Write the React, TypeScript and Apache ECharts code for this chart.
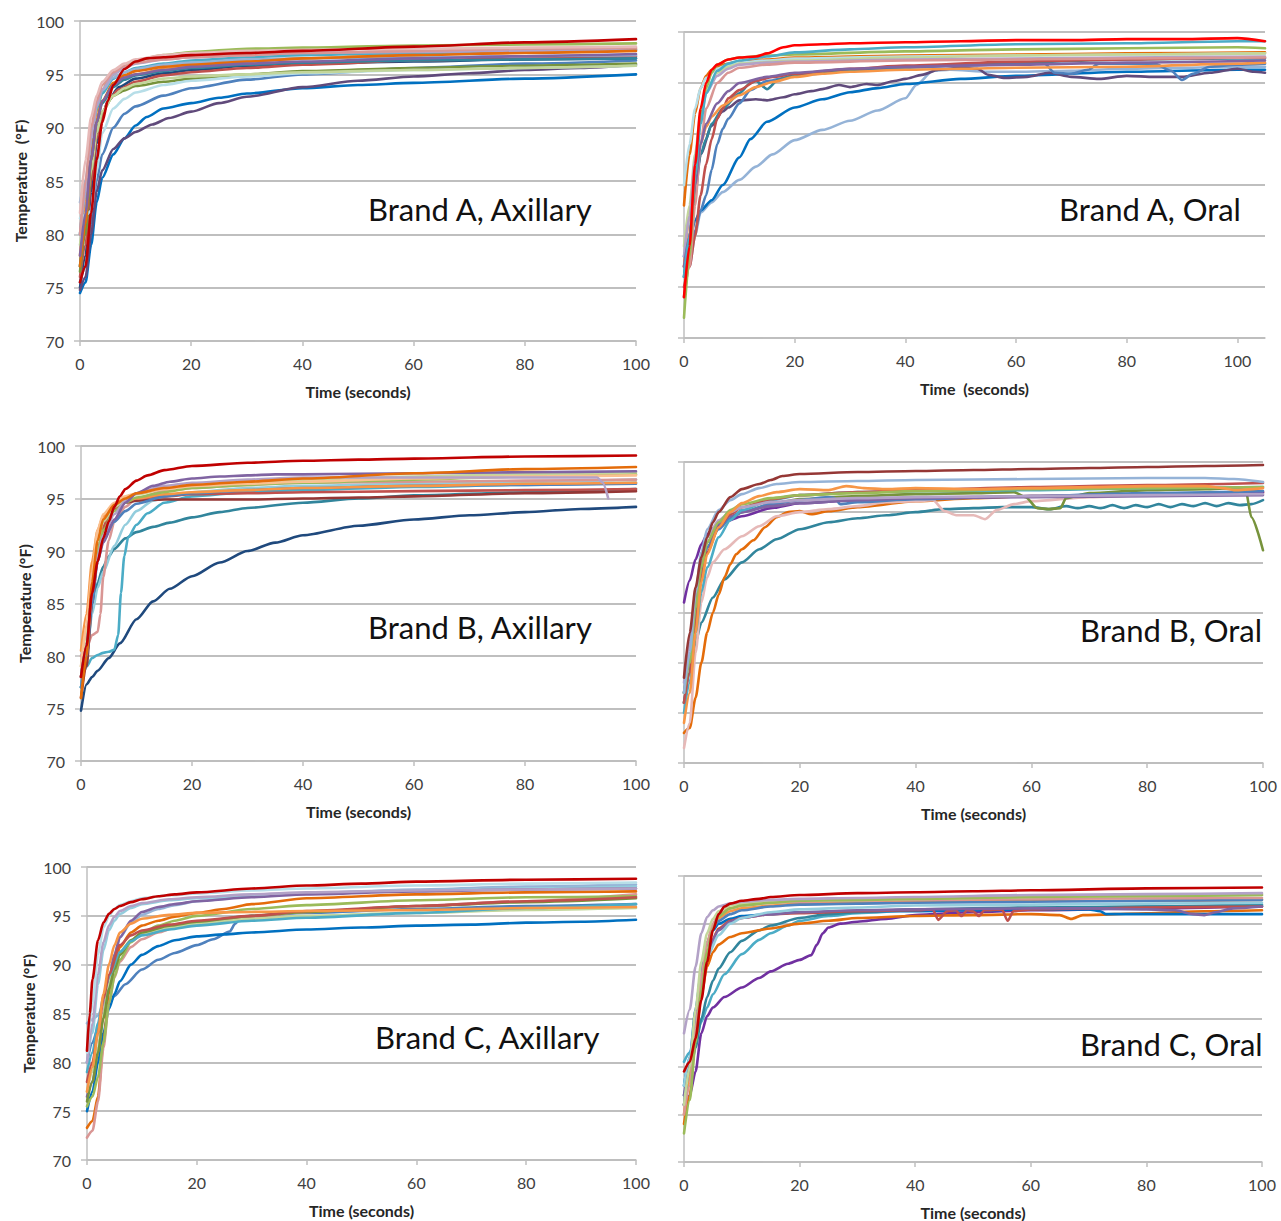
import React, { useEffect, useRef } from "react";
import * as echarts from "echarts";

type Pt = [number, number];

// Shared axis ranges
const yMin = 70;
const yMax = 100;
const yStep = 5;
const xStep = 20;
const xMaxByPanel = [100, 105, 100, 100, 100, 100];

const panelLabels = [
  "Brand A, Axillary",
  "Brand A, Oral",
  "Brand B, Axillary",
  "Brand B, Oral",
  "Brand C, Axillary",
  "Brand C, Oral",
];
const xTitles = [
  "Time (seconds)",
  "Time  (seconds)",
  "Time (seconds)",
  "Time (seconds)",
  "Time (seconds)",
  "Time (seconds)",
];
const yTitles = ["Temperature  (°F)", "", "Temperature (°F)", "", "Temperature (°F)", ""];

// ---- Brand A, axillary readings (time s, temperature °F) ----
const brandAAxillaryCurves: Pt[][] = [
  [[0,75],[1,78],[2,84],[3,88.5],[4,91],[5,92.5],[7,93.8],[10,94.6],[15,95.1],[20,95.4],[30,95.8],[40,96],[60,96.2],[80,96.4],[100,96.5]],
  [[0,75.5],[1,77],[2,81],[3,85],[4,87.5],[6,90],[8,91.3],[10,92],[15,93],[20,93.7],[30,94.5],[40,95],[60,95.6],[80,96],[100,96.3]],
  [[0,74.5],[1,75.5],[2,79],[3,83],[4,85.3],[6,87.5],[8,89],[10,90.2],[12,91],[15,91.8],[20,92.3],[25,92.8],[30,93.2],[40,93.7],[50,94],[60,94.2],[80,94.6],[100,95]],
  [[0,74.8],[1,76],[2,80],[3,84],[4,86],[6,88],[8,89],[10,89.6],[13,90.3],[16,90.9],[20,91.5],[25,92.3],[30,92.9],[40,93.8],[50,94.4],[60,94.8],[70,95.1],[80,95.4],[90,95.6],[100,95.9]],
  [[0,76],[1,79],[2,85],[3,89],[4,91],[5,92.5],[7,93.6],[10,94.3],[15,94.9],[20,95.2],[30,95.6],[40,95.9],[60,96.3],[80,96.5],[100,96.7]],
  [[0,77],[1,82],[2,88],[3,91.5],[4,93.3],[5,94.5],[7,95.6],[10,96.3],[15,96.8],[20,97.1],[30,97.4],[40,97.5],[60,97.7],[80,97.8],[100,97.9]],
  [[0,76.5],[1,80],[2,86],[3,89.5],[4,91.5],[6,93],[8,93.5],[10,93.9],[15,94.3],[20,94.6],[30,95],[40,95.3],[60,95.6],[80,95.8],[100,96]],
  [[0,78],[1,83],[2,88],[3,91],[4,92.5],[6,94],[8,94.6],[10,95],[15,95.5],[20,95.8],[30,96.2],[40,96.5],[60,96.9],[80,97.2],[100,97.4]],
  [[0,80],[1,84],[2,89],[3,91.8],[4,93.2],[6,94.6],[8,95.2],[10,95.6],[15,96],[20,96.3],[30,96.6],[40,96.8],[60,97],[80,97.2],[100,97.3]],
  [[0,81.5],[1,81.8],[2,82.2],[3,86],[4,89.5],[6,91.8],[8,92.7],[10,93.3],[15,94],[20,94.4],[30,94.8],[40,95.1],[60,95.4],[80,95.6],[100,95.8]],
  [[0,83],[1,85],[2,89],[3,92],[4,93.5],[6,94.7],[8,95.2],[10,95.5],[15,95.9],[20,96.1],[30,96.4],[40,96.5],[60,96.6],[80,96.7],[100,96.8]],
  [[0,79],[1,82],[2,86],[3,89.5],[4,91.5],[6,93],[8,93.7],[10,94.1],[15,94.6],[20,94.8],[30,95],[40,95.2],[60,95.4],[80,95.6],[100,95.8]],
  [[0,80],[1,84],[2,89],[3,92],[4,93.6],[6,95],[8,95.6],[10,96],[15,96.4],[20,96.6],[30,96.8],[40,97],[60,97.1],[80,97.2],[100,97.3]],
  [[0,80],[1,85],[2,90],[3,92.5],[4,94],[6,95.2],[8,95.8],[10,96.1],[15,96.4],[20,96.6],[30,96.8],[40,97],[60,97.2],[80,97.4],[100,97.5]],
  [[0,82],[1,87],[2,91],[3,93],[4,94.3],[6,95.4],[8,96],[10,96.4],[15,96.8],[20,97],[30,97.2],[40,97.3],[60,97.4],[80,97.5],[100,97.6]],
  [[0,77],[1,81],[2,87],[3,90.5],[4,92.3],[6,93.8],[8,94.5],[10,94.9],[15,95.3],[20,95.6],[30,95.9],[40,96.1],[60,96.3],[80,96.4],[100,96.5]],
  [[0,77],[1,81],[2,87],[3,90.5],[4,92.5],[6,94.2],[8,94.9],[10,95.3],[15,95.7],[20,95.9],[30,96.2],[40,96.5],[60,96.8],[80,97],[100,97.2]],
  [[0,78],[1,82],[2,87],[3,90.5],[4,92.5],[6,94],[8,94.7],[10,95],[15,95.4],[20,95.7],[30,96],[40,96.2],[60,96.5],[80,96.7],[100,96.9]],
  [[0,75.5],[1,77],[2,82],[3,87],[4,90.5],[5,92.5],[6,94],[8,95.5],[10,96.2],[12,96.5],[15,96.6],[20,96.8],[30,97],[40,97.2],[60,97.6],[80,98],[100,98.3]],
];
const brandAAxillaryColors = [
  "#1F497D", "#4F81BD", "#0070C0", "#604A7B", "#C0504D", "#9BBB59", "#77933C", "#F79646", "#4BACC6", "#B7DEE8",
  "#95B3D7", "#C3D69B", "#B3A2C7", "#D99694", "#E6B9B8", "#31859C", "#E46C0A", "#8064A2", "#C00000",
];

// ---- Brand A, oral ----
const brandAOralCurves: Pt[][] = [
  [[0,74],[1,77],[2,80],[3,82.3],[5,83.3],[7,84.3],[10,85.5],[13,86.8],[16,88],[20,89.4],[25,90.4],[30,91.3],[35,92.3],[40,93.5],[42,94.8],[45,96.2],[48,96.3],[55,96.1],[60,96.1],[70,96.2],[80,96.4],[90,96.5],[100,96.6],[105,96.6]],
  [[0,78],[1,79.5],[2,81.5],[3,82.5],[5,83.5],[7,85],[10,87.7],[12,89.5],[15,91.2],[20,92.6],[25,93.4],[30,94.1],[35,94.5],[40,94.9],[50,95.4],[60,95.7],[80,96.1],[100,96.3],[105,96.3]],
  [[0,77],[1,80],[2,84],[3,88],[5,90.8],[7,92.2],[8,92.6],[10,93.3],[13,93.4],[15,93.3],[18,93.6],[20,93.9],[23,94.2],[25,94.4],[28,94.8],[30,94.6],[33,94.9],[35,94.8],[38,95.2],[40,95.4],[43,95.8],[46,96.3],[50,96.5],[53,96.4],[55,95.8],[58,95.5],[62,95.6],[66,96],[70,95.6],[75,95.4],[80,95.7],[85,95.6],[90,95.6],[95,96],[100,96.4],[103,96.1],[105,96]],
  [[0,76],[1,78],[2,80.5],[3,82.5],[4,84],[5,86.5],[6,89],[7,90.5],[8,91.5],[10,93],[12,94.3],[15,95.2],[20,95.7],[30,96.2],[40,96.5],[50,96.7],[60,96.9],[65,97],[67,96],[70,95.9],[73,96.3],[75,96.9],[85,96.9],[88,96.2],[90,95.3],[92,95.9],[95,96.6],[100,96.8],[105,96.9]],
  [[0,76],[1,80],[2,85],[3,88],[4,89.5],[5,91],[7,92.5],[10,94],[12,95],[13,95.2],[15,94.4],[17,95.3],[20,95.8],[25,96.1],[30,96.3],[40,96.6],[50,96.8],[60,97],[80,97.3],[100,97.4],[105,97.4]],
  [[0,75],[1,77],[2,80],[3,84],[4,87],[5,89.5],[6,91.5],[7,92.5],[8,93.5],[10,94.3],[13,95.2],[16,95.6],[20,95.9],[30,96.4],[40,96.7],[60,97.1],[80,97.3],[100,97.5],[105,97.5]],
  [[0,77],[1,82],[2,86.5],[3,89],[4,90.7],[5,91.7],[7,92.8],[10,93.8],[13,94.6],[16,95.1],[20,95.6],[25,95.9],[30,96.1],[40,96.3],[50,96.4],[60,96.5],[80,96.6],[100,96.9],[105,97]],
  [[0,83],[1,88],[2,92],[3,94.5],[4,95.7],[5,96.3],[7,96.8],[10,97.1],[15,97.3],[20,97.5],[40,97.7],[60,97.8],[80,97.9],[105,98]],
  [[0,85],[1,89],[2,92.5],[3,94.5],[4,95.5],[6,96.4],[8,96.8],[10,97],[15,97.2],[20,97.4],[40,97.6],[60,97.7],[80,97.8],[105,97.9]],
  [[0,79],[1,83],[2,88],[3,92],[4,94.2],[6,96],[8,96.6],[10,96.9],[20,97.2],[40,97.5],[60,97.7],[80,97.8],[105,97.9]],
  [[0,78],[1,82],[2,87.5],[3,91.5],[4,94],[6,95.7],[8,96.4],[10,96.8],[15,97],[20,97.1],[40,97.3],[60,97.4],[80,97.5],[105,97.6]],
  [[0,74],[1,77],[2,83],[3,89],[4,92.5],[6,95],[8,96],[10,96.5],[15,96.8],[20,97],[40,97.2],[60,97.3],[80,97.4],[105,97.5]],
  [[0,77],[1,80],[2,85],[3,89],[4,91],[6,93],[8,94.2],[10,95],[15,95.6],[20,96],[30,96.4],[40,96.6],[60,96.8],[80,97],[105,97.2]],
  [[0,72],[1,78],[2,86],[3,91.5],[4,94.5],[5,96],[6,96.8],[8,97.3],[10,97.5],[15,97.7],[20,97.8],[40,98.1],[60,98.3],[80,98.4],[100,98.5],[105,98.4]],
  [[0,76],[1,80],[2,86],[3,91],[4,94],[6,96.2],[8,96.9],[10,97.2],[15,97.6],[20,98],[30,98.3],[40,98.5],[60,98.8],[80,98.9],[100,99.1],[105,99.1]],
  [[0,74],[1,79],[2,87],[3,92.5],[4,95],[5,96.3],[6,96.8],[8,97.3],[10,97.5],[13,97.6],[15,97.9],[18,98.5],[20,98.7],[25,98.8],[30,98.9],[40,99],[50,99.1],[60,99.2],[70,99.2],[80,99.3],[90,99.3],[100,99.4],[105,99.1]],
];
const brandAOralColors = [
  "#95B3D7", "#0070C0", "#604A7B", "#4F81BD", "#31859C", "#C0504D", "#F79646", "#E46C0A",
  "#B7DEE8", "#C3D69B", "#B3A2C7", "#D99694", "#8064A2", "#9BBB59", "#4BACC6", "#FF0000",
];

// ---- Brand B, axillary ----
const brandBAxillaryCurves: Pt[][] = [
  [[0,74.8],[1,77.3],[2,78],[3,78.6],[5,79.8],[7,81.2],[10,83.5],[13,85.2],[16,86.4],[20,87.6],[25,88.9],[30,90],[35,90.8],[40,91.5],[50,92.4],[60,93],[70,93.4],[80,93.7],[90,94],[100,94.2]],
  [[0,77],[1,80],[2,84.5],[3,87],[4,88.5],[5,89.5],[6,90.2],[8,91.2],[10,91.8],[13,92.3],[16,92.7],[20,93.2],[25,93.7],[30,94.1],[40,94.6],[50,95],[60,95.3],[80,95.6],[100,95.9]],
  [[0,77],[0.5,78.5],[1,79],[2,79.8],[3,80.1],[4,80.3],[5,80.4],[6,80.6],[6.7,82],[7.2,86],[7.8,89.5],[8.5,91.3],[10,92.5],[12,93.6],[15,94.6],[20,95.2],[30,95.6],[40,95.8],[60,96.1],[80,96.3],[100,96.5]],
  [[0,77],[1,80],[2,84],[3,86.5],[4,88],[6,90.5],[8,92.5],[10,93.8],[13,94.8],[16,95.3],[20,95.6],[30,96],[40,96.2],[60,96.4],[80,96.6],[100,96.8]],
  [[0,80],[1,80.8],[2,82],[3,82.3],[3.5,84],[4,87.5],[5,91],[6,92.8],[8,94.2],[10,95],[15,95.7],[20,96],[30,96.3],[40,96.5],[60,96.6],[80,96.7],[100,96.8]],
  [[0,76],[1,79],[2,85],[3,89.5],[4,92],[5,93.3],[6,94],[8,94.6],[10,94.8],[15,94.9],[20,94.9],[30,94.9],[40,95],[50,95.1],[60,95.2],[80,95.5],[100,95.7]],
  [[0,78],[1,81],[2,86],[3,90],[4,92.3],[5,93.4],[6,94],[8,94.7],[10,95],[15,95.2],[20,95.4],[30,95.5],[40,95.6],[60,95.7],[80,95.8],[100,95.9]],
  [[0,77],[1,80],[2,85],[3,89],[4,91],[6,92.8],[8,93.8],[10,94.5],[15,95.2],[20,95.5],[30,95.8],[40,96],[60,96.2],[80,96.3],[100,96.4]],
  [[0,80.5],[1,84],[2,89],[3,92],[4,93.3],[6,94.3],[8,94.7],[10,95],[15,95.4],[20,95.6],[30,95.8],[40,96],[60,96.2],[80,96.4],[100,96.5]],
  [[0,78],[1,81],[2,86],[3,90],[4,92],[6,93.8],[8,94.6],[10,95.1],[15,95.6],[20,96],[30,96.3],[40,96.5],[60,96.8],[80,97.1],[100,97.3]],
  [[0,79],[1,82],[2,87],[3,91],[4,92.8],[6,94.2],[8,94.9],[10,95.4],[15,95.9],[20,96.2],[30,96.5],[40,96.8],[60,97.1],[80,97.3],[100,97.5]],
  [[0,79],[1,83],[2,88],[3,92],[4,93.5],[6,94.6],[8,95.2],[10,95.5],[15,95.9],[20,96.2],[30,96.4],[40,96.6],[60,96.9],[80,97.1],[100,97.2]],
  [[0,78],[1,81],[2,86],[3,89.5],[4,91.5],[6,93.5],[8,94.8],[10,95.5],[15,96.2],[20,96.5],[30,96.8],[40,97],[60,97],[80,97],[93,97],[94,96.5],[95,95]],
  [[0,78],[1,81],[2,86],[3,89],[4,90.8],[6,93],[8,94.6],[10,95.5],[13,96.2],[16,96.6],[20,96.9],[25,97.1],[30,97.2],[35,97.3],[40,97.3],[60,97.4],[80,97.5],[100,97.6]],
  [[0,76],[1,80],[2,87],[3,91],[4,93],[6,94.4],[8,95],[10,95.5],[15,96],[20,96.3],[30,96.6],[40,96.9],[60,97.4],[80,97.8],[100,98]],
  [[0,78],[1,81],[2,86],[3,89],[4,91.2],[5,92.8],[6,94.2],[7,95.2],[8,95.9],[10,96.7],[12,97.2],[15,97.7],[20,98.1],[30,98.4],[40,98.6],[50,98.7],[60,98.8],[80,99],[100,99.1]],
];
const brandBAxillaryColors = [
  "#1F497D", "#31859C", "#4BACC6", "#93CDDD", "#D99694", "#943634", "#C0504D", "#4F81BD",
  "#F79646", "#9BBB59", "#C3D69B", "#FAC090", "#B3A2C7", "#8064A2", "#E46C0A", "#C00000",
];

// ---- Brand B, oral ----
const brandBOralCurves: Pt[][] = [
  [[0,77],[1,79],[2,82],[3,84],[5,86.5],[7,88.3],[10,90],[13,91.3],[16,92.3],[20,93.3],[25,94],[30,94.4],[35,94.7],[40,95],[45,95.3],[50,95.4],[55,95.5],[60,95.5],[63,95.3],[66,95.6],[68,95.4],[70,95.6],[72,95.4],[74,95.7],[76,95.4],[78,95.7],[80,95.5],[82,95.8],[84,95.5],[86,95.8],[88,95.6],[90,95.9],[92,95.6],[94,95.9],[96,95.7],[98,95.8],[100,96.2]],
  [[0,73],[1,73.5],[2,76.5],[3,80],[4,83],[5,85],[6,86.8],[7,88.5],[8,89.8],[9,90.8],[10,91.3],[12,92.2],[14,93.5],[16,94.5],[18,95],[20,95.1],[22,94.8],[25,95.1],[30,95.5],[40,96.1],[50,96.4],[60,96.6],[80,96.8],[100,97]],
  [[0,71.5],[1,74],[2,81],[3,86],[4,88.5],[5,90],[7,91.3],[10,92.6],[13,93.6],[16,94.6],[20,95],[25,95.3],[30,95.6],[35,96],[40,96.1],[43,96.2],[45,95.1],[47,94.7],[50,94.7],[52,94.3],[54,95.2],[57,95.8],[60,96.1],[70,96.5],[80,96.7],[90,96.8],[100,96.9]],
  [[0,76],[1,79],[2,85],[3,89.5],[4,91.5],[6,93.5],[8,94.3],[10,95],[15,95.8],[20,96.3],[30,96.6],[40,96.8],[50,96.9],[57,97],[59,96.5],[61,95.4],[63,95.3],[65,95.4],[66,96.4],[70,96.9],[80,97.2],[90,97.3],[95,97.4],[97,97.2],[98,94.5],[100,91.2]],
  [[0,86],[1,88.2],[2,90.3],[3,91.8],[4,92.8],[5,93.4],[7,94],[10,94.6],[15,95.4],[20,95.9],[30,96.2],[40,96.4],[50,96.5],[60,96.6],[80,96.8],[100,97]],
  [[0,76],[1,79],[2,85],[3,89],[4,91.5],[6,93.3],[8,94.4],[10,95],[15,95.8],[20,96.2],[25,96.5],[26,96.4],[27,95.8],[30,96],[40,96.3],[60,96.6],[80,96.9],[100,97.1]],
  [[0,77],[1,80],[2,86],[3,90],[4,92],[6,93.8],[8,94.6],[10,95],[15,95.6],[20,95.9],[30,96.2],[40,96.4],[60,96.5],[80,96.6],[100,96.7]],
  [[0,75],[1,78],[2,83],[3,87],[4,89.5],[6,92.5],[8,94.2],[10,95.2],[15,96.2],[20,96.7],[30,97],[40,97.1],[60,97.2],[80,97.4],[100,97.5]],
  [[0,76],[1,79],[2,84],[3,88.5],[4,91],[6,93.5],[8,94.8],[10,95.5],[15,96.3],[20,96.7],[30,97],[40,97.2],[60,97.5],[80,97.7],[100,97.9]],
  [[0,78],[1,82],[2,87],[3,90.5],[4,92.5],[6,94.2],[8,95],[10,95.5],[15,96],[20,96.2],[30,96.4],[40,96.5],[60,96.6],[80,96.7],[100,96.8]],
  [[0,77],[1,80],[2,85.5],[3,89.5],[4,92],[6,94],[8,95.2],[10,95.8],[15,96.4],[20,96.7],[30,96.9],[40,97.1],[60,97.3],[80,97.4],[100,97.5]],
  [[0,74],[1,77],[2,83],[3,88],[4,90.8],[6,93.5],[8,95],[10,95.9],[13,96.6],[16,97],[20,97.3],[25,97.2],[28,97.6],[31,97.4],[35,97.3],[40,97.4],[50,97.3],[60,97.4],[70,97.5],[80,97.6],[90,97.6],[93,97.4],[95,97.2],[100,97.4]],
  [[0,77],[1,81],[2,87],[3,91],[4,93.3],[6,95.2],[8,96.2],[10,96.8],[13,97.4],[16,97.8],[20,98],[30,98.1],[40,98.2],[60,98.3],[80,98.4],[90,98.4],[95,98.3],[100,98]],
  [[0,78.5],[1,83],[2,87.5],[3,90.5],[4,92.5],[5,94],[6,95],[8,96.5],[10,97.3],[13,97.8],[15,98.2],[17,98.6],[20,98.8],[30,99],[40,99.1],[50,99.2],[60,99.3],[70,99.4],[80,99.5],[90,99.6],[100,99.7]],
];
const brandBOralColors = [
  "#31859C", "#E46C0A", "#E6B9B8", "#77933C", "#7030A0", "#4F81BD", "#8064A2",
  "#4BACC6", "#C0504D", "#B3A2C7", "#9BBB59", "#F79646", "#95B3D7", "#953735",
];

// ---- Brand C, axillary ----
const brandCAxillaryCurves: Pt[][] = [
  [[0,80],[1,82],[2,83.5],[3,85],[4,86],[5,86.8],[7,88],[10,89.5],[13,90.5],[16,91.2],[20,92],[23,92.6],[26,93.4],[27,94.2],[28,94.8],[30,95],[40,95.3],[60,95.7],[80,96],[100,96.2]],
  [[0,75],[1,77],[2,80],[3,83],[4,85.5],[5,87],[6,88.3],[8,90],[10,91],[13,91.9],[16,92.5],[20,92.9],[25,93.1],[30,93.3],[40,93.6],[50,93.8],[60,94],[70,94.1],[80,94.3],[90,94.4],[100,94.6]],
  [[0,84],[1,84.4],[2,84.8],[3,86],[4,88.5],[5,91],[6,92.8],[8,94.3],[10,95.1],[13,95.7],[16,96.1],[20,96.5],[30,97],[40,97.3],[60,97.7],[80,98],[100,98.2]],
  [[0,80],[1,83],[2,88],[3,91.5],[4,93.5],[5,94.5],[6,95.2],[8,95.8],[10,96.2],[15,96.6],[20,96.8],[30,97.1],[40,97.3],[60,97.6],[80,97.8],[100,98]],
  [[0,76.5],[1,78],[2,81],[3,85],[4,88.5],[5,91],[6,92.8],[8,94.5],[10,95.4],[13,95.9],[16,96.2],[20,96.5],[30,96.9],[40,97.2],[60,97.5],[80,97.7],[100,97.8]],
  [[0,73.3],[1,74],[2,76.5],[3,82],[4,87],[5,90],[6,91.8],[8,93.3],[10,94],[13,94.5],[16,94.9],[20,95.3],[25,95.7],[30,96.2],[40,96.8],[60,97.2],[80,97.4],[100,97.5]],
  [[0,72.3],[1,73],[2,76],[3,81.5],[4,86],[5,88.7],[6,90.3],[8,91.8],[10,92.6],[13,93.3],[16,93.8],[20,94.2],[30,94.9],[40,95.4],[60,96],[80,96.5],[100,97.2]],
  [[0,75.5],[1,76.5],[2,78.5],[3,82],[4,86],[5,88.8],[6,90.5],[8,92.3],[10,93.2],[13,94],[16,94.5],[20,95],[30,95.7],[40,96.1],[60,96.6],[80,96.9],[100,97]],
  [[0,77],[1,79],[2,81.5],[3,85],[4,88],[5,90],[6,91.3],[8,92.5],[10,93.1],[15,93.8],[20,94.2],[30,94.7],[40,95],[60,95.3],[80,95.6],[100,95.8]],
  [[0,76],[1,78],[2,81],[3,84.5],[4,87.5],[5,89.5],[6,91],[8,92.5],[10,93.3],[15,94],[20,94.4],[30,95],[40,95.4],[60,96],[80,96.4],[100,96.8]],
  [[0,79],[1,81],[2,84],[3,86.8],[4,88.8],[6,91.3],[8,92.4],[10,93],[15,93.6],[20,94],[30,94.5],[40,94.8],[60,95.3],[80,95.8],[100,96.2]],
  [[0,78],[1,80],[2,83],[3,86.5],[4,89],[6,92],[8,93],[10,93.5],[15,94.1],[20,94.5],[30,95],[40,95.5],[60,96],[80,96.5],[100,96.9]],
  [[0,77],[1,79.5],[2,83],[3,87],[4,90],[5,92],[6,93.3],[8,94.2],[10,94.7],[15,95.1],[20,95.3],[30,95.4],[40,95.5],[60,95.6],[80,95.8],[100,95.9]],
  [[0,80],[1,84],[2,89],[3,92.3],[4,94],[5,94.9],[6,95.5],[8,96],[10,96.3],[15,96.7],[20,96.9],[30,97.2],[40,97.4],[60,97.6],[80,97.7],[100,97.8]],
  [[0,81],[1,86],[2,91],[3,93.8],[4,95],[5,95.7],[6,96.1],[8,96.5],[10,96.8],[15,97.1],[20,97.3],[30,97.6],[40,97.8],[60,98.1],[80,98.3],[100,98.4]],
  [[0,81.2],[0.5,85],[1,88.5],[2,92.5],[3,94.3],[4,95.2],[5,95.7],[6,96],[8,96.4],[10,96.7],[13,97],[16,97.2],[20,97.4],[30,97.8],[40,98.1],[50,98.3],[60,98.5],[80,98.7],[100,98.8]],
];
const brandCAxillaryColors = [
  "#4F81BD", "#0070C0", "#95B3D7", "#93CDDD", "#8064A2", "#E46C0A", "#D99694", "#9BBB59",
  "#C3D69B", "#77933C", "#4BACC6", "#C0504D", "#F79646", "#B3A2C7", "#B7DEE8", "#C00000",
];

// ---- Brand C, oral ----
const brandCOralCurves: Pt[][] = [
  [[0,76],[1,77],[2,79.5],[3,83.5],[4,85.3],[5,86.2],[7,87.3],[10,88.3],[13,89.3],[15,90],[18,90.8],[20,91.2],[22,91.7],[23,92.8],[24,94],[25,94.6],[27,95],[30,95.2],[35,95.5],[40,95.9],[50,96.2],[60,96.4],[80,96.6],[100,96.8]],
  [[0,80.5],[1,81.5],[2,83],[3,84.7],[4,86.2],[5,87.6],[7,89.7],[10,91.8],[13,93.3],[15,94],[18,94.8],[20,95.3],[25,95.8],[30,96.1],[40,96.4],[60,96.6],[80,96.8],[100,97]],
  [[0,77],[1,79],[2,82],[3,85],[4,87.3],[5,89],[6,90.3],[8,92],[10,93.2],[13,94.3],[15,94.8],[20,95.6],[25,96],[30,96.2],[40,96.5],[60,96.7],[80,96.8],[100,96.9]],
  [[0,74],[1,77],[2,83],[3,87.5],[4,90.5],[5,92],[6,92.8],[8,93.6],[10,94],[15,94.5],[20,95],[25,95.3],[30,95.6],[40,95.8],[50,95.9],[60,96],[65,95.9],[67,95.5],[69,95.9],[80,96.1],[90,96.3],[100,96.4]],
  [[0,78],[1,81],[2,86],[3,90],[4,93],[5,94.3],[6,95],[8,95.5],[10,95.8],[15,96],[20,96.2],[30,96.3],[40,96.3],[50,96.4],[60,96.5],[70,96.5],[72,96.3],[73,96],[80,96],[90,96],[100,96]],
  [[0,76],[1,79],[2,85],[3,89],[4,92],[6,94.5],[8,95.3],[10,95.6],[15,96],[20,96.1],[30,96.3],[40,96.4],[43,96.5],[44,95.4],[45.5,96.3],[47,96.4],[48,95.8],[49,96.4],[50,96.3],[51,95.8],[52,96.4],[55,96.5],[56,95.3],[57,96.3],[60,96.5],[70,96.6],[80,96.7],[100,96.8]],
  [[0,77],[1,80],[2,85],[3,89.5],[4,92],[6,94.3],[8,95.2],[10,95.6],[15,96],[20,96.2],[30,96.4],[40,96.5],[60,96.6],[70,96.6],[80,96.5],[85,96.4],[88,96],[90,95.9],[92,96.2],[95,96.6],[100,96.8]],
  [[0,75],[1,79],[2,85],[3,90],[4,93],[5,94.8],[6,95.6],[8,96.3],[10,96.6],[15,96.9],[20,97.1],[30,97.2],[40,97.3],[60,97.4],[80,97.4],[100,97.5]],
  [[0,78],[1,81],[2,85],[3,89],[4,91.5],[6,93.8],[8,95],[10,95.6],[15,96.2],[20,96.5],[30,96.7],[40,96.9],[60,97],[80,97.1],[100,97.2]],
  [[0,76],[1,80],[2,85],[3,90],[4,93],[5,94.5],[6,95.3],[8,96],[10,96.4],[15,96.8],[20,97],[30,97.1],[40,97.2],[60,97.3],[80,97.4],[100,97.5]],
  [[0,75],[1,78],[2,84],[3,89.5],[4,93],[5,95],[6,96],[8,96.6],[10,96.9],[15,97.2],[20,97.3],[30,97.4],[40,97.5],[60,97.6],[80,97.7],[100,97.7]],
  [[0,76],[1,80],[2,86],[3,91],[4,94],[5,95.5],[6,96.3],[8,96.9],[10,97.1],[15,97.3],[20,97.4],[30,97.5],[40,97.6],[60,97.8],[80,97.9],[100,98]],
  [[0,73],[1,76.5],[2,82.5],[3,88],[4,92],[5,94.5],[6,95.8],[8,96.6],[10,96.9],[15,97.2],[20,97.4],[30,97.5],[40,97.6],[60,97.8],[80,97.9],[100,98]],
  [[0,83.5],[1,86],[2,90.5],[3,94],[4,95.7],[5,96.4],[6,96.8],[8,97.1],[10,97.3],[15,97.5],[20,97.6],[30,97.7],[40,97.8],[60,98],[80,98.1],[100,98.2]],
  [[0,79.5],[1,80.5],[2,83],[3,87],[4,91],[5,94.3],[6,96],[7,96.8],[8,97.1],[10,97.4],[13,97.6],[15,97.8],[20,98],[30,98.2],[40,98.3],[50,98.4],[60,98.5],[80,98.7],[100,98.8]],
];
const brandCOralColors = [
  "#7030A0", "#4BACC6", "#31859C", "#E46C0A", "#0070C0", "#C0504D", "#8064A2", "#F79646",
  "#93CDDD", "#4F81BD", "#D99694", "#C3D69B", "#9BBB59", "#B3A2C7", "#C00000",
];

const panelCurves = [
  brandAAxillaryCurves, brandAOralCurves, brandBAxillaryCurves,
  brandBOralCurves, brandCAxillaryCurves, brandCOralCurves,
];
const panelColors = [
  brandAAxillaryColors, brandAOralColors, brandBAxillaryColors,
  brandBOralColors, brandCAxillaryColors, brandCOralColors,
];

// Plot-area boxes of the six panels (pixels)
const gridBoxes = [
  { left: 80, top: 21, width: 556, height: 320 },
  { left: 684, top: 32, width: 581, height: 306 },
  { left: 81, top: 446, width: 555, height: 315 },
  { left: 684, top: 462, width: 579, height: 301 },
  { left: 87, top: 867, width: 549, height: 293 },
  { left: 684, top: 876, width: 578, height: 287 },
];
// Where each brand/site caption sits (left edge, vertical centre)
const captionSpots = [
  [368, 209], [1059, 209], [368, 627], [1080, 630], [375, 1037], [1080, 1044],
];
const yNameGaps = [52, 0, 49, 0, 51, 0];

const FONT = "Lato, 'Open Sans', sans-serif";
const GRID_GREY = "#bfbfbf";

function buildOption() {
  const grid = gridBoxes.map((g) => ({ ...g, containLabel: false }));

  const xAxis = gridBoxes.map((_, i) => ({
    type: "value",
    gridIndex: i,
    min: 0,
    max: xMaxByPanel[i],
    interval: xStep,
    name: xTitles[i],
    nameLocation: "middle",
    nameGap: 42,
    nameTextStyle: { fontFamily: FONT, fontWeight: "bold", fontSize: 16, color: "#262626" },
    axisLine: { show: true, onZero: false, lineStyle: { color: GRID_GREY, width: 1.5 } },
    axisTick: { show: true, length: 5, lineStyle: { color: GRID_GREY, width: 1.5 } },
    axisLabel: {
      margin: 14,
      fontFamily: FONT,
      fontSize: 16,
      color: "#404040",
      showMaxLabel: xMaxByPanel[i] === 100,
    },
    splitLine: { show: false },
  }));

  const yAxis = gridBoxes.map((_, i) => {
    const isLeft = i % 2 === 0;
    return {
      type: "value",
      gridIndex: i,
      min: yMin,
      max: yMax,
      interval: yStep,
      name: yTitles[i],
      nameLocation: "middle",
      nameGap: yNameGaps[i],
      nameTextStyle: { fontFamily: FONT, fontWeight: "bold", fontSize: 16, color: "#262626" },
      axisLine: { show: true, lineStyle: { color: GRID_GREY, width: 1.5 } },
      axisTick: { show: true, length: 6, lineStyle: { color: GRID_GREY, width: 1.5 } },
      axisLabel: { show: isLeft, margin: 16, fontFamily: FONT, fontSize: 16, color: "#404040" },
      splitLine: { show: true, lineStyle: { color: GRID_GREY, width: 1.8 } },
    };
  });

  const series: any[] = [];
  panelCurves.forEach((curves, p) => {
    curves.forEach((pts, k) => {
      series.push({
        type: "line",
        xAxisIndex: p,
        yAxisIndex: p,
        data: pts,
        showSymbol: false,
        symbol: "none",
        smooth: 0.25,
        smoothMonotone: "x",
        silent: true,
        lineStyle: { width: 2.6, color: panelColors[p][k], cap: "round", join: "round" },
      });
    });
  });

  const graphic = panelLabels.map((txt, i) => ({
    type: "text",
    x: captionSpots[i][0],
    y: captionSpots[i][1],
    style: {
      text: txt,
      fontFamily: FONT,
      fontSize: 31,
      fill: "#111111",
      textAlign: "left",
      textVerticalAlign: "middle",
    },
    z: 100,
  }));

  return {
    animation: false,
    backgroundColor: "#ffffff",
    textStyle: { fontFamily: FONT },
    grid,
    xAxis,
    yAxis,
    series,
    graphic,
  };
}

export default function App() {
  const ref = useRef<HTMLDivElement>(null);

  useEffect(() => {
    if (!ref.current) return;
    const chart = echarts.init(ref.current, undefined, { renderer: "svg" });
    chart.setOption(buildOption() as any);
    return () => chart.dispose();
  }, []);

  return (
    <div
      ref={ref}
      style={{ position: "absolute", left: 0, top: 0, width: 1281, height: 1221, background: "#fff" }}
    />
  );
}
